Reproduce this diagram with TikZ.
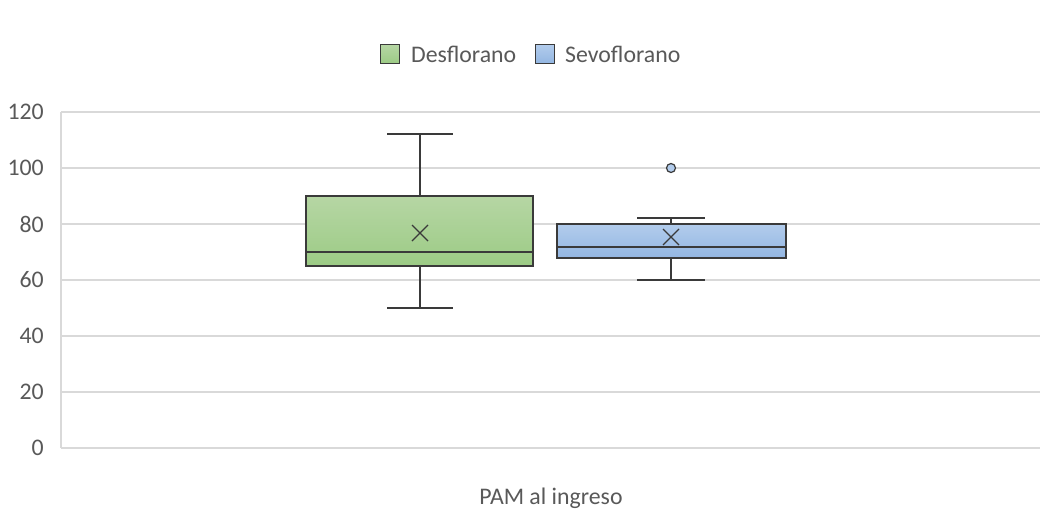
\documentclass[tikz,border=0pt]{standalone}
\usepackage{fontspec}
\setmainfont{Carlito}
\begin{document}
\begin{tikzpicture}[x=1pt,y=-1pt,
  lbl/.style={text=txtgray,font=\fontsize{23.8}{26}\selectfont,inner sep=0pt},
  grid/.style={draw=gridgray,line width=1.3pt},
  wline/.style={draw=lnclr,line width=1.4pt},
  gbox/.style={draw=lnclr,line width=1.4pt,top color=gtop,bottom color=gbot},
  bbox/.style={draw=lnclr,line width=1.4pt,top color=btop,bottom color=bbot}]
\definecolor{txtgray}{HTML}{595959}
\definecolor{gridgray}{HTML}{D9D9D9}
\definecolor{lnclr}{HTML}{3A3A3A}
\definecolor{gtop}{HTML}{B6D6A4}
\definecolor{gbot}{HTML}{9CCB85}
\definecolor{btop}{HTML}{B2CCEC}
\definecolor{bbot}{HTML}{93B6E2}
\useasboundingbox[fill=white] (0,0) rectangle (1040,512);
% grid
\foreach \v in {0,20,...,120} {
  \pgfmathsetmacro{\yy}{448-2.8*\v}
  \draw[grid] (61,\yy) -- (1040,\yy);
  \node[lbl,anchor=east] (t\v) at (44,\yy) {\v};
}
\draw[grid] (61,112) -- (61,448);
% legend
\node[gbox,minimum width=19pt,minimum height=19pt,inner sep=0pt,line width=1.2pt] (lg) at (390,54) {};
\node[lbl,anchor=west] (lgt) at (411,54) {Desflorano};
\node[bbox,minimum width=19pt,minimum height=19pt,inner sep=0pt,line width=1.2pt] (lb) at (545,54) {};
\node[lbl,anchor=west] (lbt) at (565,54) {Sevoflorano};
% x label
\node[lbl] (xl) at (551,498) {PAM al ingreso};
% Desflorano box
\coordinate (gTop) at (420,134);
\coordinate (gQ3) at (420,196);
\coordinate (gQ1) at (420,266);
\coordinate (gBot) at (420,308);
\draw[wline] (gTop) -- (gQ3);
\draw[wline] (gQ1) -- (gBot);
\draw[wline] (387,134) -- (453,134);
\draw[wline] (387,308) -- (453,308);
\draw[gbox] (306,196) rectangle (533,266);
\draw[wline] (306,252) -- (533,252);
\draw[draw=lnclr,line width=1.3pt] (412,225) -- (428,241) (412,241) -- (428,225);
% Sevoflorano box
\coordinate (bTop) at (671,218);
\coordinate (bQ3) at (671,224);
\coordinate (bQ1) at (671,258);
\coordinate (bBot) at (671,280);
\draw[wline] (bTop) -- (bQ3);
\draw[wline] (bQ1) -- (bBot);
\draw[wline] (637,218) -- (705,218);
\draw[wline] (637,280) -- (705,280);
\draw[bbox] (557,224) rectangle (786,258);
\draw[wline] (557,247) -- (786,247);
\draw[draw=lnclr,line width=1.3pt] (663,229) -- (679,245) (663,245) -- (679,229);
\node[circle,draw=lnclr,fill=btop,line width=1.2pt,minimum size=9pt,inner sep=0pt] (out) at (671,168) {};
\end{tikzpicture}
\end{document}
